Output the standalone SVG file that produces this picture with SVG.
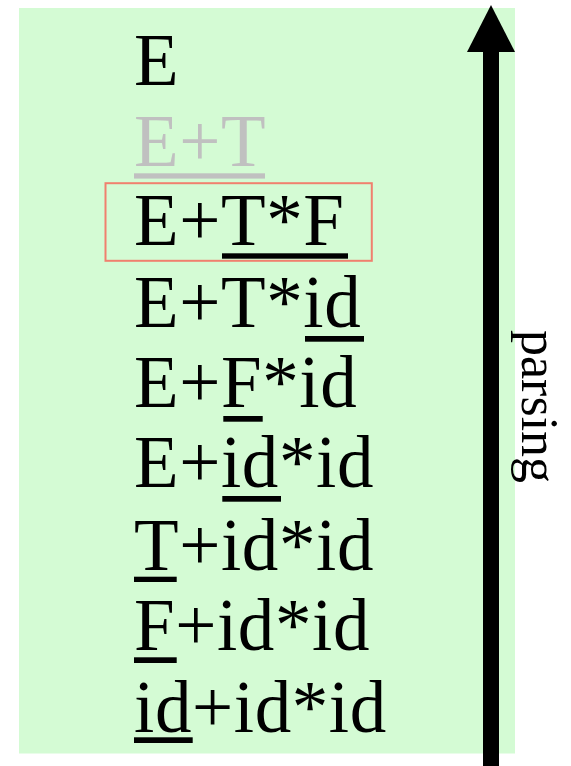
<svg xmlns="http://www.w3.org/2000/svg" width="571" height="766" viewBox="0 0 571 766">
  <style>
    .row { font-family: "Liberation Serif", "Times New Roman", serif; font-size: 73px; letter-spacing: 0.6px; fill: #000; }
    .faded { fill: #c0c0c0; }
    .handle { fill: #000; }
    .handle.faded { fill: #c0c0c0; }
    .label { font-family: "Liberation Serif", "Times New Roman", serif; font-size: 52px; fill: #000; }
  </style>

  <!-- background panel -->
  <rect x="19" y="8" width="496" height="745.5" fill="#d4fbd4"/>

  <!-- sentential forms, one per row; handles underlined -->
  <g id="row-E"><text class="row" x="134" y="85">E</text></g>
  <g id="row-ET">
    <text class="row faded" x="134" y="165.7">E+T</text>
    <rect class="handle faded" x="134" y="173.3" width="131" height="5.3"/>
  </g>
  <g id="row-ETF">
    <rect x="105.5" y="183.2" width="266.3" height="77.6" fill="none" stroke="#f0806e" stroke-width="2"/>
    <text class="row" x="134" y="245">E+T*F</text>
    <rect class="handle" x="222" y="253.3" width="126" height="5.4"/>
  </g>
  <g id="row-ETid">
    <text class="row" x="134" y="326.7">E+T*id</text>
    <rect class="handle" x="305" y="336" width="59" height="5.7"/>
  </g>
  <g id="row-EFid">
    <text class="row" x="134" y="406.7">E+F*id</text>
    <rect class="handle" x="223.3" y="416" width="39.4" height="5.7"/>
  </g>
  <g id="row-Eidid">
    <text class="row" x="134" y="486.7">E+id*id</text>
    <rect class="handle" x="222.3" y="496" width="58.7" height="5.7"/>
  </g>
  <g id="row-Tidid">
    <text class="row" x="134" y="570">T+id*id</text>
    <rect class="handle" x="134" y="576.7" width="42.7" height="5.3"/>
  </g>
  <g id="row-Fidid">
    <text class="row" x="134" y="650">F+id*id</text>
    <rect class="handle" x="134" y="657.3" width="42.7" height="5.7"/>
  </g>
  <g id="row-ididid">
    <text class="row" x="134" y="731.7">id+id*id</text>
    <rect class="handle" x="134" y="737.3" width="58.7" height="5.7"/>
  </g>

  <!-- direction of parsing -->
  <g id="connectors">
    <rect x="483" y="50" width="16" height="716" fill="#000"/>
    <polygon points="491,5 467,52 515,52" fill="#000"/>
  </g>
  <g id="parsing-label">
    <text class="label" transform="translate(522,330) rotate(90)">parsing</text>
  </g>
</svg>
